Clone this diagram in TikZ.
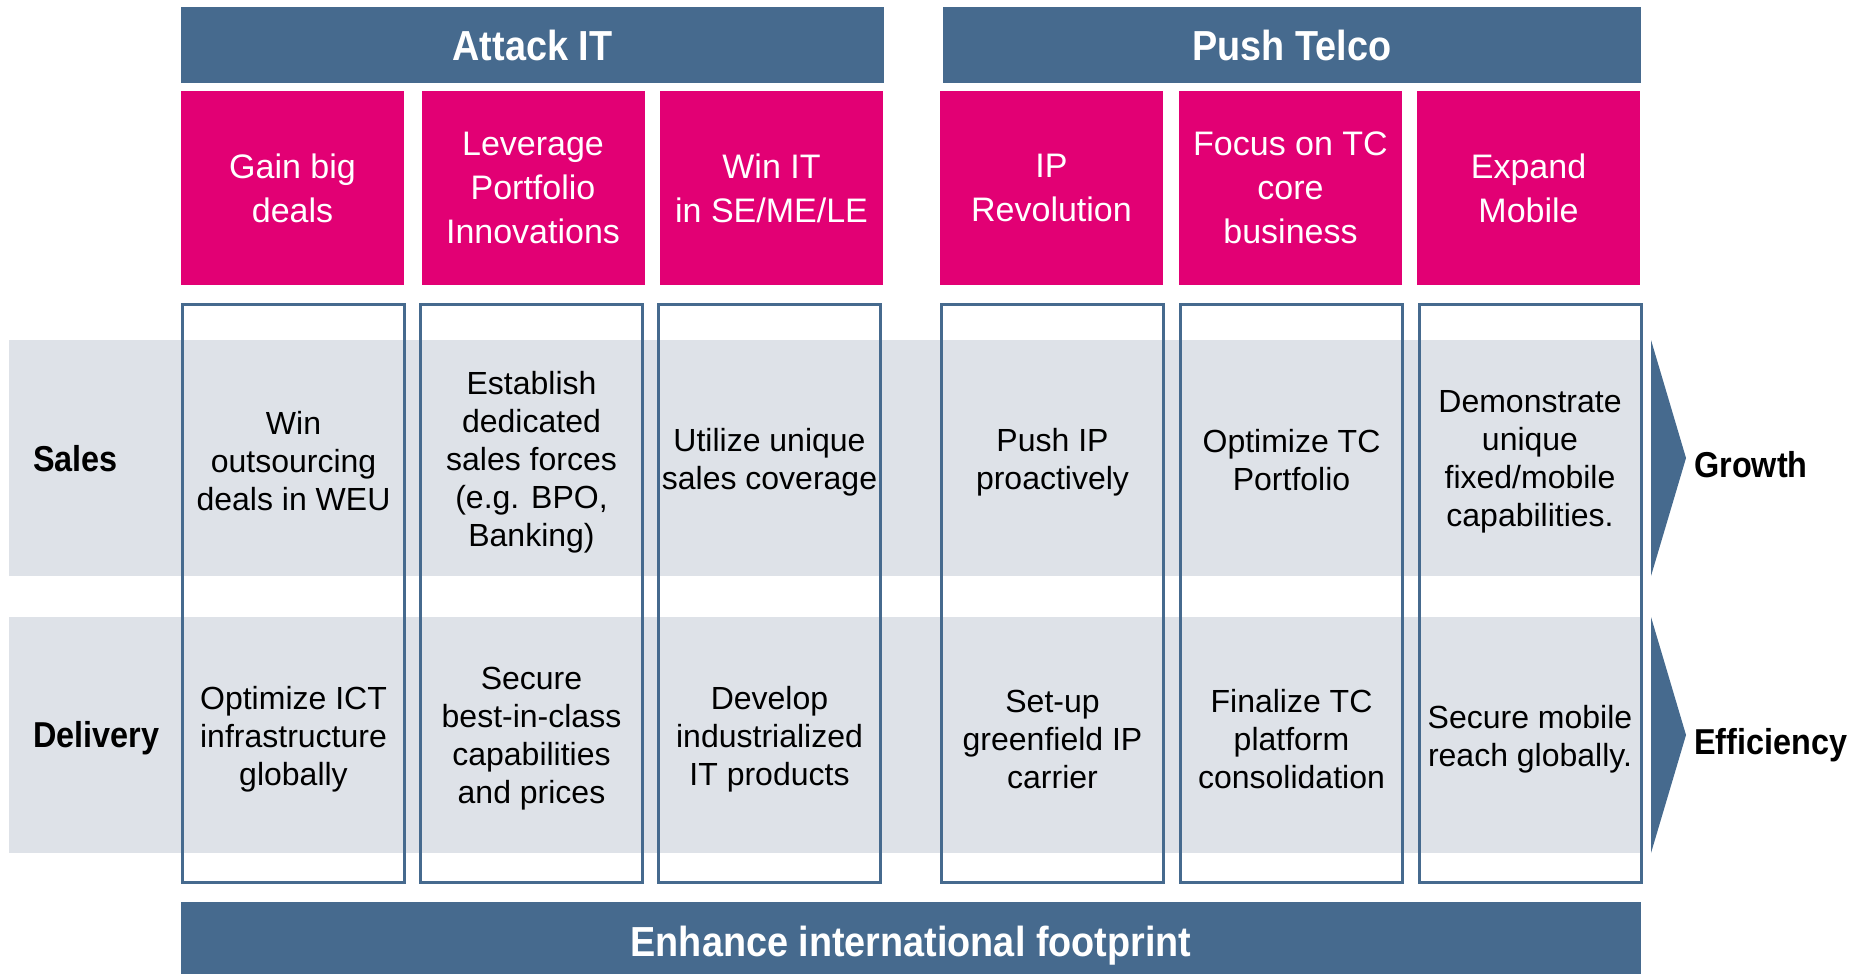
\documentclass[tikz,border=0pt]{standalone}
\usepackage{fontspec}
\setmainfont{Liberation Sans}
\newfontfamily\headfont{Liberation Sans}[FakeStretch=0.9]
\usepackage{tikz}

\definecolor{barblue}{RGB}{70,106,142}
\definecolor{tmagenta}{RGB}{226,0,116}
\definecolor{bandgray}{RGB}{222,226,232}

\begin{document}
\begin{tikzpicture}[x=1pt, y=-1pt,
  topbar/.style={fill=barblue, text=white, inner sep=0, minimum height=76,
    font=\headfont\bfseries\fontsize{42}{46}\selectfont},
  goalbox/.style={fill=tmagenta, text=white, inner sep=0, align=center,
    minimum width=223, minimum height=194, font=\fontsize{34}{44}\selectfont},
  colbox/.style={draw=barblue, line width=3, inner sep=0,
    minimum width=222, minimum height=578},
  celltext/.style={align=center, inner sep=0, font=\fontsize{32}{38}\selectfont},
  rowlabel/.style={anchor=west, inner sep=0,
    font=\headfont\bfseries\fontsize{36}{40}\selectfont}]
\useasboundingbox (0,0) rectangle (1852,974);

\node[topbar, minimum width=703] (attack) at (532.5,45) {Attack IT};
\node[topbar, minimum width=698] (push) at (1292,45) {Push Telco};

\node[goalbox] (g1) at (292.5,188) {Gain big\\deals};
\node[goalbox] (g2) at (533,188) {Leverage\\Portfolio\\Innovations};
\node[goalbox] (g3) at (771.5,188) {Win IT\\in SE/ME/LE};
\node[goalbox] (g4) at (1051.5,188) {IP\\Revolution};
\node[goalbox] (g5) at (1290.5,188) {Focus on TC\\core\\business};
\node[goalbox] (g6) at (1528.5,188) {Expand\\Mobile};

\fill[bandgray] (9,340) rectangle (1641,576);
\fill[bandgray] (9,617) rectangle (1641,853);
\fill[barblue] (1651,340) -- (1686,458) -- (1651,576) -- cycle;
\fill[barblue] (1651,617) -- (1686,735) -- (1651,853) -- cycle;

\node[colbox] (b1) at (293.5,593) {};
\node[colbox] (b2) at (531.5,593) {};
\node[colbox] (b3) at (769.5,593) {};
\node[colbox] (b4) at (1052.5,593) {};
\node[colbox] (b5) at (1291.5,593) {};
\node[colbox] (b6) at (1530,593) {};

\node[rowlabel] (sales) at (33,459) {Sales};
\node[rowlabel] (delivery) at (33,738) {Delivery};
\node[rowlabel] (growth) at (1694,465) {Growth};
\node[rowlabel] (efficiency) at (1694,745) {Efficiency};

\node[celltext] (s1) at (293.5,461) {Win\\outsourcing\\deals in WEU};
\node[celltext] (s2) at (531.5,462) {Establish\\dedicated\\sales forces\\(e.g. BPO,\\Banking)};
\node[celltext] (s3) at (769.5,462) {Utilize unique\\sales coverage};
\node[celltext] (s4) at (1052.5,462) {Push IP\\proactively};
\node[celltext] (s5) at (1291.5,460) {Optimize TC\\Portfolio};
\node[celltext] (s6) at (1530,462) {Demonstrate\\unique\\fixed/mobile\\capabilities.};

\node[celltext] (d1) at (293.5,739) {Optimize ICT\\infrastructure\\globally};
\node[celltext] (d2) at (531.5,739) {Secure\\best-in-class\\capabilities\\and prices};
\node[celltext] (d3) at (769.5,739) {Develop\\industrialized\\IT products};
\node[celltext] (d4) at (1052.5,739) {Set-up\\greenfield IP\\carrier};
\node[celltext] (d5) at (1291.5,739) {Finalize TC\\platform\\consolidation};
\node[celltext] (d6) at (1530,739) {Secure mobile\\reach globally.};

\node[topbar, minimum width=1460, minimum height=72] (footprint) at (911,938) {};
\node[topbar, fill=none, minimum height=0] (footprinttext) at (911,946) {Enhance international footprint};

\end{tikzpicture}
\end{document}
